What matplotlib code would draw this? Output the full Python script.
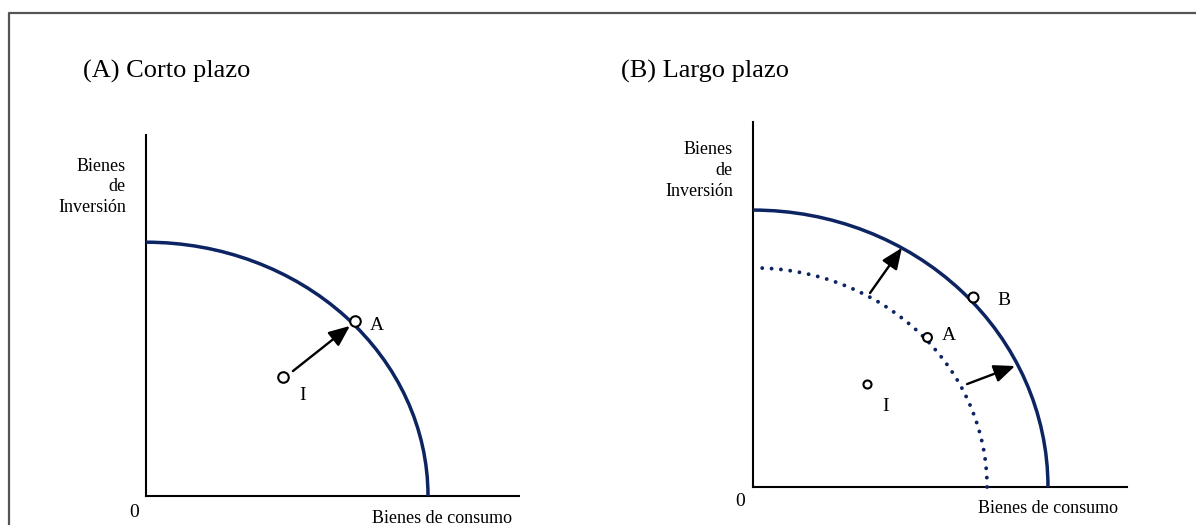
import matplotlib
matplotlib.use("Agg")
import matplotlib.pyplot as plt
from matplotlib.patches import Arc
from matplotlib.lines import Line2D

plt.rcParams['font.family'] = ['Liberation Serif', 'DejaVu Serif']

W, H = 1196, 525
NAVY = '#0d2463'

# frontier intercepts (consumption, investment)
ppf_a = (10.0, 9.0)
ppf_b_old = (8.30, 7.77)
ppf_b_new = (10.46, 9.82)

# points on panel A
pts_a = {'A': (7.41, 6.21), 'I': (4.86, 4.22)}
lbl_a = {'A': (7.94, 6.06, 'left'), 'I': (5.57, 3.58, 'center')}
arrow_a = [((5.21, 4.43), (7.23, 6.03))]

# points on panel B
pts_b = {'B': (7.79, 6.72), 'A': (6.16, 5.31), 'I': (4.03, 3.64)}
msize_b = {'B': 7.2, 'A': 6.4, 'I': 5.8}
lbl_b = {'B': (8.65, 6.63, 'left'), 'A': (6.70, 5.39, 'left'), 'I': (4.71, 2.85, 'center')}
arrows_b = [((4.15, 6.88), (5.28, 8.48)), ((7.59, 3.65), (9.29, 4.29))]

titles = ['(A) Corto plazo', '(B) Largo plazo']
ylab = 'Bienes\nde\nInversión'
xlab = 'Bienes de consumo'

S = 28.2  # px per unit


def make_ax(fig, ox, oy, xend, ytop):
    ax = fig.add_axes([ox / W, (H - oy) / H, (xend - ox) / W, (oy - ytop) / H])
    ax.set_xlim(0, (xend - ox) / S)
    ax.set_ylim(0, (oy - ytop) / S)
    for s in ['top', 'right']:
        ax.spines[s].set_visible(False)
    for s in ['left', 'bottom']:
        ax.spines[s].set_linewidth(1.5)
        ax.spines[s].set_color('black')
    ax.set_xticks([])
    ax.set_yticks([])
    ax.patch.set_alpha(0)
    return ax


def arrow(ax, tail, head):
    ax.annotate('', xy=head, xytext=tail,
                arrowprops=dict(arrowstyle='-|>,head_length=0.85,head_width=0.36',
                                mutation_scale=15, color='black', lw=1.7,
                                shrinkA=0, shrinkB=0))


def frontier(ax, ab, dotted=False):
    arc = Arc((0, 0), 2 * ab[0], 2 * ab[1], theta1=0, theta2=90,
              color=NAVY, lw=2.8 if dotted else 2.5, clip_on=False, zorder=3)
    if dotted:
        arc.set_linestyle((0, (0.01, 2.4)))
        arc.set_capstyle('round')
    ax.add_patch(arc)


fig = plt.figure(figsize=(W / 100, H / 100), dpi=100)

# frame
fig.add_artist(Line2D([9 / W, 9 / W, 1], [0, 1 - 13 / H, 1 - 13 / H],
                      color='#555555', lw=1.6, transform=fig.transFigure))

# panel A
axA = make_ax(fig, 146, 496, 519, 135)
frontier(axA, ppf_a)
for k, (x, y) in pts_a.items():
    axA.plot(x, y, 'o', mfc='white', mec='black', mew=1.5, ms=7.6, zorder=5, clip_on=False)
    lx, ly, ha = lbl_a[k]
    axA.text(lx, ly, k, ha=ha, va='center', fontsize=14)
for t, h in arrow_a:
    arrow(axA, t, h)
axA.text(-0.71, 10.96, ylab, ha='right', va='center', fontsize=13,
         multialignment='right', linespacing=1.3)
axA.text(-0.43, -0.57, '0', ha='center', va='center', fontsize=14)
axA.text(10.51, -0.80, xlab, ha='center', va='center', fontsize=13)

# panel B
axB = make_ax(fig, 753, 487, 1127, 122)
frontier(axB, ppf_b_old, dotted=True)
frontier(axB, ppf_b_new)
for k, (x, y) in pts_b.items():
    axB.plot(x, y, 'o', mfc='white', mec='black', mew=1.5, ms=msize_b[k], zorder=5, clip_on=False)
    lx, ly, ha = lbl_b[k]
    axB.text(lx, ly, k, ha=ha, va='center', fontsize=14)
for t, h in arrows_b:
    arrow(axB, t, h)
axB.text(-0.71, 11.21, ylab, ha='right', va='center', fontsize=13,
         multialignment='right', linespacing=1.3)
axB.text(-0.46, -0.50, '0', ha='center', va='center', fontsize=14)
axB.text(10.46, -0.78, xlab, ha='center', va='center', fontsize=13)

# titles
fig.text(83 / W, 1 - 71 / H, titles[0], ha='left', va='center', fontsize=19)
fig.text(621 / W, 1 - 71 / H, titles[1], ha='left', va='center', fontsize=19)

fig.savefig('out.png', dpi=100)
